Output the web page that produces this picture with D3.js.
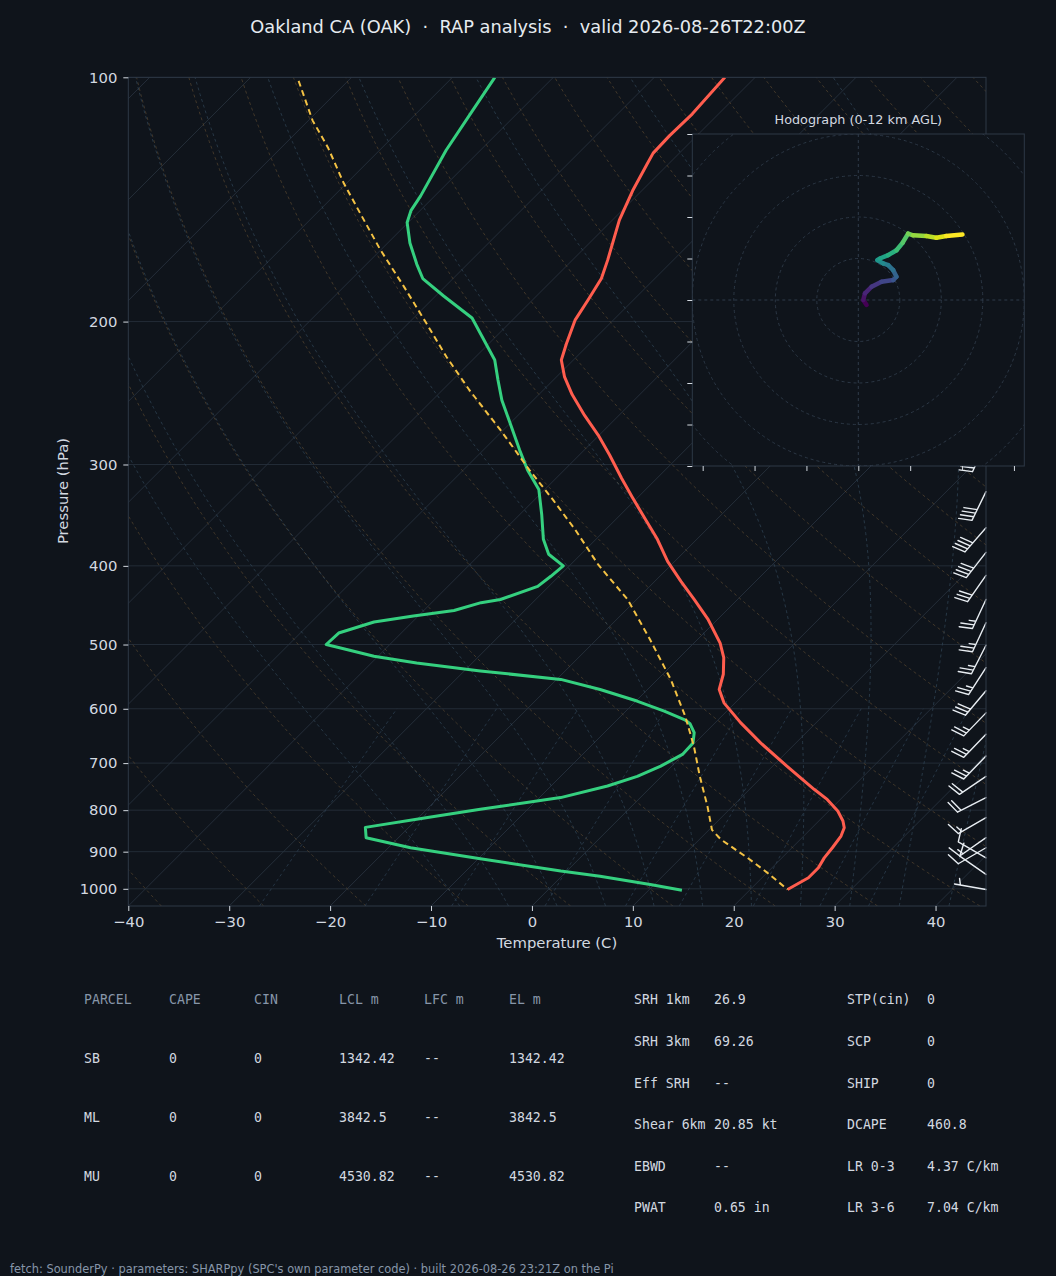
<!DOCTYPE html>
<html>
<head>
<meta charset="utf-8">
<script src="https://cdn.jsdelivr.net/npm/d3@7"></script>
<style>
  body { margin: 0; background: #0f141b; }
  svg { display: block; }
</style>
</head>
<body>
<div id="chart"></div>
<script>
// ===================== DATA =====================
const title = "Oakland CA (OAK)  ·  RAP analysis  ·  valid 2026-08-26T22:00Z";
const footer = "fetch: SounderPy · parameters: SHARPpy (SPC's own parameter code) · built 2026-08-26 23:21Z on the Pi";

const pTicks = [100, 200, 300, 400, 500, 600, 700, 800, 900, 1000];
const tTicks = [-40, -30, -20, -10, 0, 10, 20, 30, 40];

// temperature profile (hPa, C)
const tempP = [100, 111, 118, 124, 128, 138, 150, 168, 177, 188, 199, 213, 223, 234, 246, 261, 276, 292, 312, 329, 351, 371, 395, 418, 440, 466, 498, 519, 544, 568, 590, 624, 661, 706, 754, 776, 802, 825, 841, 861, 890, 916, 942, 969, 1002];
const tempC = [-63.0, -62.6, -62.7, -62.6, -62.1, -60.9, -59.3, -56.5, -55.3, -54.5, -53.8, -52.3, -51.2, -49.2, -46.7, -43.4, -40.1, -37.0, -33.5, -30.6, -27.0, -23.9, -20.7, -17.4, -14.3, -10.9, -7.4, -5.6, -4.0, -2.9, -1.1, 2.5, 6.5, 11.4, 16.4, 18.7, 20.9, 22.4, 23.2, 23.7, 24.0, 24.2, 24.6, 24.6, 23.7];

// dewpoint profile (hPa, C)
const dewP = [100, 110, 123, 140, 146, 151, 160, 170, 177, 186, 198, 223, 236, 250, 268, 288, 305, 322, 346, 371, 387, 400, 412, 424, 440, 444, 454, 461, 469, 484, 500, 504, 517, 527, 539, 552, 568, 587, 604, 619, 626, 642, 661, 683, 706, 727, 747, 772, 798, 817, 840, 865, 890, 918, 951, 965, 988, 1004];
const dewC = [-85.8, -84.7, -83.4, -81.4, -80.9, -80.1, -77.8, -75.0, -73.0, -69.2, -64.2, -57.8, -55.5, -53.1, -49.8, -46.4, -43.6, -40.6, -37.8, -35.2, -33.2, -30.6, -30.8, -31.1, -33.5, -35.1, -37.0, -40.5, -43.8, -46.2, -46.3, -44.9, -40.4, -35.5, -28.4, -19.6, -14.7, -9.9, -6.2, -3.3, -2.4, -1.1, -0.2, -0.1, -1.1, -2.4, -4.4, -7.9, -14.7, -19.1, -24.3, -23.2, -17.8, -9.8, -0.6, 3.8, 9.6, 13.3];

// surface parcel trace (hPa, C)
const parcelP = [101, 113, 122, 135, 147, 163, 181, 201, 221, 243, 272, 305, 332, 361, 399, 440, 493, 552, 613, 667, 727, 791, 846, 869, 916, 955, 1002];
const parcelC = [-104.9, -99.6, -95.4, -90.3, -85.7, -80.1, -74.1, -68.2, -62.9, -57.3, -50.3, -43.4, -38.1, -33.0, -27.2, -20.9, -14.7, -8.7, -3.6, 0.2, 3.8, 7.5, 10.3, 12.1, 16.6, 20.0, 23.7];

// wind barbs (hPa, direction deg, speed kt)
const windP   = [282, 324, 359, 385, 411, 440, 470, 501, 534, 570, 607, 645, 686, 727, 772, 817, 865, 890, 916, 960, 1002];
const windDir = [205, 206, 221, 218, 215, 205, 205, 207, 213, 220, 224, 224, 224, 236, 243, 240, 235, 240, 300, 305, 280];
const windSpd = [45, 40, 40, 40, 30, 25, 25, 25, 25, 30, 25, 25, 25, 20, 20, 15, 15, 10, 10, 10, 5];

// hodograph trace (kt)
const hodoU = [2.0, 1.2, 1.6, 3.2, 5.6, 8.4, 9.2, 8.4, 7.2, 6.0, 4.6, 5.2, 7.2, 9.2, 10.7, 12.0, 13.2, 16.4, 18.8, 21.2, 25.1];
const hodoV = [-1.2, 0.0, 1.6, 3.2, 4.4, 4.8, 5.6, 7.2, 8.4, 8.8, 9.6, 10.0, 10.8, 12.0, 13.8, 16.0, 15.6, 15.4, 15.0, 15.4, 15.8];
const hodoRings = [10, 20, 30, 40, 50, 60];
const hodoYTicks = [-40, -30, -20, -10, 0, 10, 20, 30, 40];
const hodoXTicks = [-30, -20, -10, 0, 10, 20, 30];

// parameter tables
const parcelHead = ["PARCEL", "CAPE", "CIN", "LCL m", "LFC m", "EL m"];
const parcelRows = [
  ["SB", "0", "0", "1342.42", "--", "1342.42"],
  ["ML", "0", "0", "3842.5", "--", "3842.5"],
  ["MU", "0", "0", "4530.82", "--", "4530.82"]
];
const kinKeys = ["SRH 1km", "SRH 3km", "Eff SRH", "Shear 6km", "EBWD", "PWAT"];
const kinVals = ["26.9", "69.26", "--", "20.85 kt", "--", "0.65 in"];
const idxKeys = ["STP(cin)", "SCP", "SHIP", "DCAPE", "LR 0-3", "LR 3-6"];
const idxVals = ["0", "0", "0", "460.8", "4.37 C/km", "7.04 C/km"];

// ===================== STYLE =====================
const BG = "#0f141b", SPINE = "#2e3947", GRID = "#232c37", TXT = "#d3d9e0", MUTED = "#8796a9";
const SANS = "DejaVu Sans, sans-serif", MONO = "DejaVu Sans Mono, monospace";

// ===================== CHART =====================
const W = 1056, H = 1276;
const plot = { left: 128.3, right: 986, top: 77.3, bottom: 906 };

const svg = d3.select("#chart").append("svg").attr("width", W).attr("height", H);
svg.append("rect").attr("width", W).attr("height", H).attr("fill", BG);

const x = d3.scaleLinear().domain([-40, 45]).range([plot.left, plot.right]);
const y = d3.scaleLog().domain([1050, 100]).range([plot.bottom, plot.top]);
const skew = (t, p) => x(t) + (plot.bottom - y(p));   // 45 degree skew

svg.append("clipPath").attr("id", "clip").append("rect")
  .attr("x", plot.left).attr("y", plot.top)
  .attr("width", plot.right - plot.left).attr("height", plot.bottom - plot.top);

const bgLines = svg.append("g").attr("clip-path", "url(#clip)");
const ptLine = d3.line().x(d => skew(d[1], d[0])).y(d => y(d[0]));
const levels = d3.range(1050, 99, -5);

// isobars
bgLines.selectAll(".isobar").data(pTicks).enter().append("line")
  .attr("x1", plot.left).attr("x2", plot.right)
  .attr("y1", d => y(d)).attr("y2", d => y(d))
  .attr("stroke", GRID).attr("stroke-width", 1);

// isotherms
bgLines.selectAll(".isotherm").data(d3.range(-150, 50, 10)).enter().append("path")
  .attr("d", t => ptLine([[1050, t], [100, t]]))
  .attr("stroke", "#27313d").attr("stroke-width", 0.9).attr("fill", "none");

// dry adiabats
bgLines.selectAll(".dry").data(d3.range(-40, 210, 10)).enter().append("path")
  .attr("d", th => ptLine(levels.map(p => [p, (th + 273.15) * Math.pow(p / 1000, 0.2857) - 273.15])))
  .attr("stroke", "#5e4c33").attr("stroke-width", 0.8).attr("stroke-dasharray", "3,3")
  .attr("fill", "none").attr("opacity", 0.8);

// moist adiabats
function moistAdiabat(t0) {
  const Rd = 287.04, Cp = 1005.7, Lv = 2.501e6, eps = 0.622;
  const dTdp = (p, T) => {
    const tc = T - 273.15;
    const es = 6.112 * Math.exp(17.67 * tc / (tc + 243.5));
    const rs = eps * es / (p - es);
    return (Rd * T + Lv * rs) / (p * (Cp + Lv * Lv * rs * eps / (Rd * T * T)));
  };
  const walk = (pEnd, step) => {
    const out = [];
    let p = 1000, T = t0 + 273.15;
    while ((step < 0 && p > pEnd) || (step > 0 && p < pEnd)) {
      const k1 = dTdp(p, T);
      const k2 = dTdp(p + step, T + k1 * step);
      T += 0.5 * (k1 + k2) * step;
      p += step;
      out.push([p, T - 273.15]);
    }
    return out;
  };
  return walk(1050, 5).reverse().concat([[1000, t0]], walk(100, -5));
}
bgLines.selectAll(".moist").data(d3.range(-10, 50, 5)).enter().append("path")
  .attr("d", t0 => ptLine(moistAdiabat(t0)))
  .attr("stroke", "#32485a").attr("stroke-width", 0.8).attr("stroke-dasharray", "3,3")
  .attr("fill", "none").attr("opacity", 0.85);

// mixing ratio lines
const mixLevels = d3.range(1050, 599, -10);
bgLines.selectAll(".mix").data([0.4, 1, 2, 4, 7, 10, 16, 24, 32]).enter().append("path")
  .attr("d", w => ptLine(mixLevels.map(p => {
    const e = w * p / (622 + w), l = Math.log(e / 6.112);
    return [p, 243.5 * l / (17.67 - l)];
  })))
  .attr("stroke", "#2f4457").attr("stroke-width", 0.8).attr("stroke-dasharray", "3,3")
  .attr("fill", "none").attr("opacity", 0.85);

// profiles
const prof = svg.append("g").attr("clip-path", "url(#clip)");
prof.append("path").datum(dewP.map((p, i) => [p, dewC[i]])).attr("d", ptLine)
  .attr("fill", "none").attr("stroke", "#35d07f").attr("stroke-width", 3).attr("stroke-linejoin", "round");
prof.append("path").datum(tempP.map((p, i) => [p, tempC[i]])).attr("d", ptLine)
  .attr("fill", "none").attr("stroke", "#ff5d4e").attr("stroke-width", 3).attr("stroke-linejoin", "round");
prof.append("path").datum(parcelP.map((p, i) => [p, parcelC[i]])).attr("d", ptLine)
  .attr("fill", "none").attr("stroke", "#f4c244").attr("stroke-width", 2).attr("stroke-dasharray", "6,4");

// wind barbs (matplotlib geometry), anchored on the right spine
function barbPath(x0, y0, dir, spd) {
  const L = 32, sp = 0.125 * L, h = 0.4 * L, w = 0.25 * L;
  const r = dir * Math.PI / 180;
  const d = [Math.sin(r), -Math.cos(r)], s = [Math.cos(r), Math.sin(r)];
  const P = (off, side) => [x0 + d[0] * off + s[0] * side, y0 + d[1] * off + s[1] * side];
  const v = Math.round(spd / 5) * 5;
  const flags = Math.floor(v / 50), barbs = Math.floor((v % 50) / 10), half = (v % 10) >= 5;
  let path = d3.path(), off = L;
  const t = P(0, 0), e = P(L, 0);
  path.moveTo(t[0], t[1]); path.lineTo(e[0], e[1]);
  for (let i = 0; i < flags; i++) {
    const a = P(off, 0), b = P(off - w / 2, h), c = P(off - w, 0);
    path.moveTo(a[0], a[1]); path.lineTo(b[0], b[1]); path.lineTo(c[0], c[1]); path.closePath();
    off -= w + sp;
  }
  for (let i = 0; i < barbs; i++) {
    const a = P(off, 0), b = P(off + w / 2, h);
    path.moveTo(a[0], a[1]); path.lineTo(b[0], b[1]);
    off -= sp;
  }
  if (half) {
    if (off === L) off -= 1.5 * sp;
    const a = P(off, 0), b = P(off + w / 4, h / 2);
    path.moveTo(a[0], a[1]); path.lineTo(b[0], b[1]);
  }
  return path.toString();
}
svg.append("g").selectAll("path").data(windP).enter().append("path")
  .attr("d", (p, i) => barbPath(plot.right, y(p), windDir[i], windSpd[i]))
  .attr("fill", "none").attr("stroke", "#e8edf2").attr("stroke-width", 1.4)
  .attr("stroke-linecap", "round").attr("stroke-linejoin", "round");

// frame
svg.append("rect").attr("x", plot.left).attr("y", plot.top)
  .attr("width", plot.right - plot.left).attr("height", plot.bottom - plot.top)
  .attr("fill", "none").attr("stroke", SPINE).attr("stroke-width", 1);

// axes
function styleAxis(g, size) {
  g.select(".domain").remove();
  g.selectAll(".tick line").attr("stroke", TXT).attr("stroke-width", 1);
  g.selectAll(".tick text").attr("fill", TXT).attr("font-family", SANS).attr("font-size", size);
}
const minus = d => d < 0 ? "\u2212" + Math.abs(d) : String(d);
svg.append("g").attr("transform", `translate(${plot.left},0)`)
  .call(d3.axisLeft(y).tickValues(pTicks).tickFormat(d3.format("d")).tickSize(5).tickPadding(6))
  .call(g => styleAxis(g, 14.8));
svg.append("g").attr("transform", `translate(0,${plot.bottom})`)
  .call(d3.axisBottom(x).tickValues(tTicks).tickFormat(minus).tickSize(5).tickPadding(5))
  .call(g => styleAxis(g, 14.8));

svg.append("text").attr("x", 557).attr("y", 948).attr("text-anchor", "middle")
  .attr("fill", TXT).attr("font-family", SANS).attr("font-size", 14.8).text("Temperature (C)");
svg.append("text").attr("transform", "translate(68,491) rotate(-90)").attr("text-anchor", "middle")
  .attr("fill", TXT).attr("font-family", SANS).attr("font-size", 14.8).text("Pressure (hPa)");

svg.append("text").attr("x", 528).attr("y", 33).attr("text-anchor", "middle")
  .attr("fill", "#e6ebf0").attr("font-family", SANS).attr("font-size", 17.8)
  .style("white-space", "pre").text(title);

// ===================== HODOGRAPH =====================
const hb = { left: 692.3, right: 1024.3, top: 134, bottom: 466 };
const hx = d3.scaleLinear().domain([-32, 32]).range([hb.left, hb.right]);
const hy = d3.scaleLinear().domain([-40, 40]).range([hb.bottom, hb.top]);
const hcx = (hb.left + hb.right) / 2, hcy = (hb.top + hb.bottom) / 2;
const hr = d3.scaleLinear().domain([0, 40]).range([0, (hb.bottom - hb.top) / 2]);

const hodo = svg.append("g");
hodo.append("clipPath").attr("id", "hclip").append("rect")
  .attr("x", hb.left).attr("y", hb.top).attr("width", hb.right - hb.left).attr("height", hb.bottom - hb.top);
hodo.append("rect").attr("x", hb.left).attr("y", hb.top)
  .attr("width", hb.right - hb.left).attr("height", hb.bottom - hb.top).attr("fill", BG);
const hin = hodo.append("g").attr("clip-path", "url(#hclip)");
hin.selectAll("circle").data(hodoRings).enter().append("circle")
  .attr("cx", hcx).attr("cy", hcy).attr("r", d => hr(d))
  .attr("fill", "none").attr("stroke", "#2f3b4a").attr("stroke-width", 0.9).attr("stroke-dasharray", "3,3");
hin.append("line").attr("x1", hb.left).attr("x2", hb.right).attr("y1", hcy).attr("y2", hcy)
  .attr("stroke", "#2f3b4a").attr("stroke-dasharray", "3,3");
hin.append("line").attr("y1", hb.top).attr("y2", hb.bottom).attr("x1", hcx).attr("x2", hcx)
  .attr("stroke", "#2f3b4a").attr("stroke-dasharray", "3,3");

const nSeg = hodoU.length - 1;
hin.selectAll(".seg").data(d3.range(nSeg)).enter().append("line")
  .attr("x1", i => hcx + hr(hodoU[i])).attr("y1", i => hcy - hr(hodoV[i]))
  .attr("x2", i => hcx + hr(hodoU[i + 1])).attr("y2", i => hcy - hr(hodoV[i + 1]))
  .attr("stroke", i => d3.interpolateViridis(i / (nSeg - 1)))
  .attr("stroke-width", 4.5).attr("stroke-linecap", "round");

hodo.append("rect").attr("x", hb.left).attr("y", hb.top)
  .attr("width", hb.right - hb.left).attr("height", hb.bottom - hb.top)
  .attr("fill", "none").attr("stroke", SPINE).attr("stroke-width", 1);
hodo.append("g").attr("transform", `translate(${hb.left},0)`)
  .call(d3.axisLeft(hy).tickValues(hodoYTicks).tickFormat("").tickSize(5))
  .call(g => styleAxis(g, 10));
hodo.append("g").attr("transform", `translate(0,${hb.bottom})`)
  .call(d3.axisBottom(hx).tickValues(hodoXTicks).tickFormat("").tickSize(5))
  .call(g => styleAxis(g, 10));
hodo.append("text").attr("x", hcx).attr("y", 124).attr("text-anchor", "middle")
  .attr("fill", TXT).attr("font-family", SANS).attr("font-size", 12.8).text("Hodograph (0-12 km AGL)");

// ===================== TABLES =====================
const colX = [84, 169, 254, 339, 424, 509];
const rowY = [999, 1058, 1117, 1176];
const tbl = svg.append("g").attr("font-family", MONO).attr("font-size", 13.2).style("white-space", "pre");
parcelHead.forEach((t, j) => tbl.append("text").attr("x", colX[j]).attr("y", rowY[0] + 4.5).attr("fill", MUTED).text(t));
parcelRows.forEach((row, i) => row.forEach((t, j) =>
  tbl.append("text").attr("x", colX[j]).attr("y", rowY[i + 1] + 4.5).attr("fill", TXT).text(t)));

const kRowY = [999, 1041, 1083, 1124, 1166, 1207];
kinKeys.forEach((t, i) => {
  tbl.append("text").attr("x", 634).attr("y", kRowY[i] + 4.5).attr("fill", TXT).text(t);
  tbl.append("text").attr("x", 714).attr("y", kRowY[i] + 4.5).attr("fill", TXT).text(kinVals[i]);
  tbl.append("text").attr("x", 847).attr("y", kRowY[i] + 4.5).attr("fill", TXT).text(idxKeys[i]);
  tbl.append("text").attr("x", 927).attr("y", kRowY[i] + 4.5).attr("fill", TXT).text(idxVals[i]);
});

svg.append("text").attr("x", 10).attr("y", 1273).attr("fill", MUTED)
  .attr("font-family", SANS).attr("font-size", 11.4).text(footer);
</script>
</body>
</html>
